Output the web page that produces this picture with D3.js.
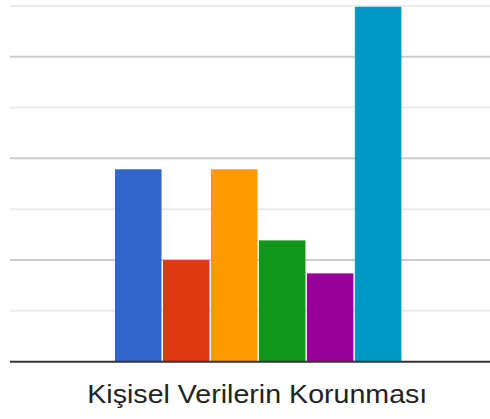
<!DOCTYPE html>
<html>
<head>
<meta charset="utf-8">
<script src="https://cdn.jsdelivr.net/npm/d3@7"></script>
<style>
  body { margin: 0; background: #fff; }
  svg { display: block; }
</style>
</head>
<body>
<div id="wrapper"></div>
<script>
// chart data
const categories = ["A", "B", "C", "D", "E", "F"];
const values = [30.2, 15.9, 30.2, 19.0, 13.8, 55.8];
const colors = ["#3366cc", "#dc3912", "#ff9900", "#109618", "#990099", "#0099c6"];
const tickValues = [8, 16, 24, 32, 40, 48, 56];
const xLabel = "Kişisel Verilerin Korunması";

const dimensions = {
  width: 490,
  height: 419,
  plotLeft: 10,
  plotRight: 490,
  plotTop: 5.5,
  plotBottom: 361
};

const wrapper = d3.select("#wrapper").append("svg")
  .attr("width", dimensions.width)
  .attr("height", dimensions.height);

const yScale = d3.scaleLinear()
  .domain([0, 56])
  .range([dimensions.plotBottom, dimensions.plotTop]);

const xScale = d3.scaleBand()
  .domain(categories)
  .range([115, 401.4])
  .paddingInner(0.03)
  .paddingOuter(0);

// gridlines from a left axis with no labels
const grid = wrapper.append("g")
  .attr("transform", `translate(${dimensions.plotLeft}, 0)`)
  .call(d3.axisLeft(yScale)
    .tickValues(tickValues)
    .tickSize(-(dimensions.plotRight - dimensions.plotLeft))
    .tickFormat(""));
grid.select(".domain").remove();
grid.selectAll(".tick line")
  .attr("stroke", (d, i) => i % 2 === 0 ? "#ebebeb" : "#cccccc")
  .attr("stroke-width", 2);

// bars
wrapper.append("g")
  .selectAll("rect")
  .data(values)
  .enter()
  .append("rect")
  .attr("x", (d, i) => xScale(categories[i]))
  .attr("y", d => yScale(d))
  .attr("width", xScale.bandwidth())
  .attr("height", d => yScale(0) - yScale(d))
  .attr("fill", (d, i) => colors[i]);

// baseline
wrapper.append("line")
  .attr("x1", dimensions.plotLeft)
  .attr("x2", dimensions.plotRight)
  .attr("y1", yScale(0) + 0.7)
  .attr("y2", yScale(0) + 0.7)
  .attr("stroke", "#333333")
  .attr("stroke-width", 2);

// x label
wrapper.append("text")
  .attr("x", 257.3)
  .attr("y", 403.3)
  .attr("text-anchor", "middle")
  .attr("textLength", 340)
  .attr("lengthAdjust", "spacingAndGlyphs")
  .style("font-family", "Arial, 'Liberation Sans', sans-serif")
  .style("font-size", "25px")
  .attr("fill", "#222222")
  .text(xLabel);
</script>
</body>
</html>
